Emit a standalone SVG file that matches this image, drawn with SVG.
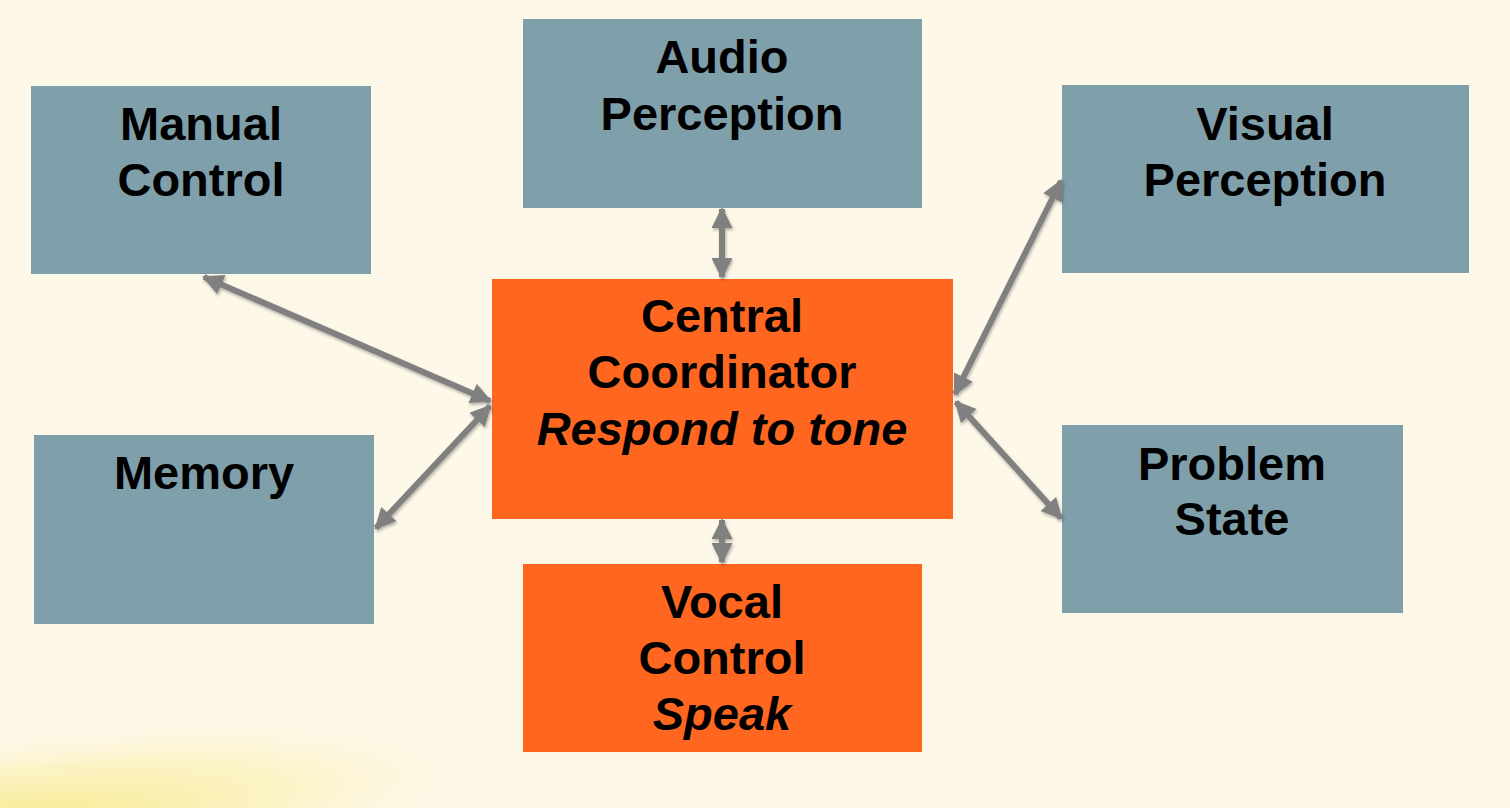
<svg xmlns="http://www.w3.org/2000/svg" width="1510" height="808" viewBox="0 0 1510 808">
<defs>
<style>
.bg{fill:#FEF8E9}
.blue{fill:#7F9FAA}
.orange{fill:#FF6720}
text{font-family:"Liberation Sans",Arial,sans-serif;font-weight:bold;font-size:47px;fill:#000;text-anchor:middle}
.it{font-style:italic}
.conn line{stroke:#808080;stroke-width:6;marker-start:url(#ah);marker-end:url(#ah)}
</style>
<marker id="ah" viewBox="0 0 10 10" refX="9" refY="5" markerWidth="3.8" markerHeight="3.5" orient="auto-start-reverse" markerUnits="strokeWidth">
<path d="M0,0 L10,5 L0,10 Z" fill="#808080"/>
</marker>
<radialGradient id="glow" cx="0" cy="0" r="1" gradientUnits="userSpaceOnUse" gradientTransform="translate(0 825) rotate(-7) scale(520 95)">
<stop offset="0" stop-color="#F6EA88"/>
<stop offset="0.55" stop-color="#FAF1B6" stop-opacity="0.7"/>
<stop offset="1" stop-color="#FEF8E9" stop-opacity="0"/>
</radialGradient>
<filter id="sh" x="-10%" y="-10%" width="120%" height="120%">
<feDropShadow dx="1" dy="2" stdDeviation="1.5" flood-color="#000" flood-opacity="0.3"/>
</filter>
</defs>
<rect class="bg" x="0" y="0" width="1510" height="808"/>
<rect x="0" y="650" width="1510" height="158" fill="url(#glow)"/>

<g id="manual-control"><rect class="blue" x="31" y="86" width="340" height="188"/><text x="201" y="140">Manual</text><text x="201" y="196">Control</text></g>
<g id="audio-perception"><rect class="blue" x="523" y="19" width="399" height="189"/><text x="722" y="73">Audio</text><text x="722" y="130">Perception</text></g>
<g id="visual-perception"><rect class="blue" x="1062" y="85" width="407" height="188"/><text x="1265" y="140">Visual</text><text x="1265" y="196">Perception</text></g>
<g id="central-coordinator"><rect class="orange" x="492" y="279" width="461" height="240"/><text x="722" y="332">Central</text><text x="722" y="388">Coordinator</text><text class="it" x="722" y="445">Respond to tone</text></g>
<g id="memory"><rect class="blue" x="34" y="435" width="340" height="189"/><text x="204" y="489">Memory</text></g>
<g id="problem-state"><rect class="blue" x="1062" y="425" width="341" height="188"/><text x="1232" y="480">Problem</text><text x="1232" y="535">State</text></g>
<g id="vocal-control"><rect class="orange" x="523" y="564" width="399" height="188"/><text x="722" y="618">Vocal</text><text x="722" y="674">Control</text><text class="it" x="722" y="730">Speak</text></g>

<g id="connectors" class="conn" filter="url(#sh)">
<line x1="204" y1="277" x2="490" y2="401"/>
<line x1="376" y1="528" x2="490" y2="406"/>
<line x1="722" y1="209" x2="722" y2="277"/>
<line x1="722" y1="520" x2="722" y2="562"/>
<line x1="1061" y1="181" x2="955" y2="394"/>
<line x1="956" y1="402" x2="1061" y2="518"/>
</g>
</svg>
